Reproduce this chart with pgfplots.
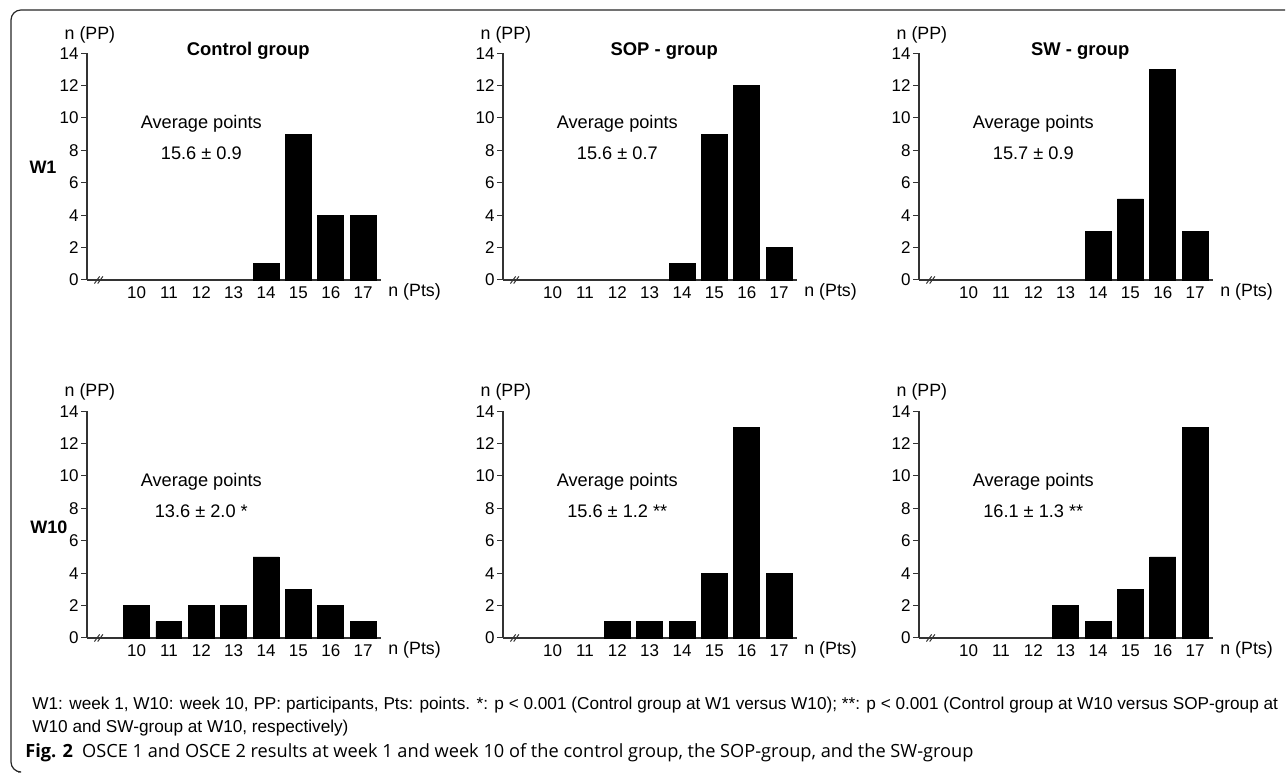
\documentclass[border=0pt]{standalone}
\usepackage{pgfplots}
\pgfplotsset{compat=1.18}
\usepackage{fontspec}
\setmainfont{Liberation Sans}
\newfontfamily\capfont{Open Sans}

\pgfplotsset{panel/.style={
  scale only axis, width=147pt, height=113.4pt,
  xmin=8.47, xmax=17.55, ymin=0, ymax=14,
  axis lines*=left, ytick={0,2,...,14}, xtick={10,...,17},
  xtick style={draw=none},
  tick align=outside, major tick length=3pt,
  ytick style={black!80, line width=0.5pt},
  axis line style={line width=0.6pt, black!80},
  tick label style={font=\fontsize{8.5}{9}\selectfont},
  yticklabel style={inner sep=1pt},
  xticklabel style={yshift=3pt},
  /pgf/number format/assume math mode=true,
  ybar, bar width=0.8, bar shift=0pt,
  clip=false,
  anchor=south west,
}}
\newcommand{\deco}[3]{%
  \draw[line width=0.5pt, black!80] (axis cs:8.78,0) ++(-1.3pt,-1.8pt) -- ++(2.6pt,3.6pt);
  \draw[line width=0.5pt, black!80] (axis cs:8.88,0) ++(-1.3pt,-1.8pt) -- ++(2.6pt,3.6pt);
  \node[font=\fontsize{8.9}{10}\selectfont] at (axis cs:8.56,#3) {n (PP)};
  \node[anchor=west, inner sep=0pt, font=\fontsize{8.9}{10}\selectfont] at ([xshift=3.5pt,yshift=-6pt]axis cs:17.55,0) {n (Pts)};
  \node[font=\bfseries\fontsize{9.2}{10}\selectfont] at (axis cs:13.45,14.13) {#1};
  \node[font=\fontsize{9.1}{10}\selectfont] at (axis cs:12,9.62) {Average points};
  \node[font=\fontsize{9.1}{10}\selectfont] at (axis cs:12,7.82) {#2};
}

\begin{document}
\begin{tikzpicture}
\path[use as bounding box] (0,0) rectangle (643.5pt,387pt);
\draw[line width=0.6pt, black!85, rounded corners=5pt] (642.5pt,382pt) -- (5.5pt,382pt) -- (5.5pt,1pt) -- (9pt,1pt);

% ---- top row ----
\begin{axis}[panel, at={(43.5pt,247pt)}]
\addplot[fill=black, draw=black] coordinates {(14,1) (15,9) (16,4) (17,4)};
\deco{Control group}{15.6 ± 0.9}{15.1}
\end{axis}
\begin{axis}[panel, at={(251.5pt,247pt)}]
\addplot[fill=black, draw=black] coordinates {(14,1) (15,9) (16,12) (17,2)};
\deco{SOP - group}{15.6 ± 0.7}{15.1}
\end{axis}
\begin{axis}[panel, at={(459.5pt,247pt)}]
\addplot[fill=black, draw=black] coordinates {(14,3) (15,5) (16,13) (17,3)};
\deco{SW - group}{15.7 ± 0.9}{15.1}
\end{axis}

% ---- bottom row ----
\begin{axis}[panel, at={(43.5pt,68pt)}]
\addplot[fill=black, draw=black] coordinates {(10,2) (11,1) (12,2) (13,2) (14,5) (15,3) (16,2) (17,1)};
\deco{}{13.6 ± 2.0 *}{15.18}
\end{axis}
\begin{axis}[panel, at={(251.5pt,68pt)}]
\addplot[fill=black, draw=black] coordinates {(12,1) (13,1) (14,1) (15,4) (16,13) (17,4)};
\deco{}{15.6 ± 1.2 **}{15.18}
\end{axis}
\begin{axis}[panel, at={(459.5pt,68pt)}]
\addplot[fill=black, draw=black] coordinates {(13,2) (14,1) (15,3) (16,5) (17,13)};
\deco{}{16.1 ± 1.3 **}{15.18}
\end{axis}

\node[font=\bfseries\fontsize{9}{10}\selectfont] at (21.5pt,303.5pt) {W1};
\node[anchor=west, inner sep=0pt, font=\bfseries\fontsize{9}{10}\selectfont] at (15pt,123.5pt) {W10};

\node[anchor=west, inner sep=0pt, font=\fontsize{8.6}{9}\selectfont] at (16pt,34.5pt) {W1: week 1, W10: week 10, PP: participants, Pts: points. *: p < 0.001 (Control group at W1 versus W10); **: p < 0.001 (Control group at W10 versus SOP-group at};
\node[anchor=west, inner sep=0pt, font=\fontsize{8.6}{9}\selectfont] at (16pt,23pt) {W10 and SW-group at W10, respectively)};
\node[anchor=west, inner sep=0pt, font=\capfont\fontsize{9.1}{10}\selectfont] at (12.5pt,10.5pt) {\textbf{Fig. 2}\hspace{0.5em}OSCE 1 and OSCE 2 results at week 1 and week 10 of the control group, the SOP-group, and the SW-group};
\end{tikzpicture}
\end{document}
